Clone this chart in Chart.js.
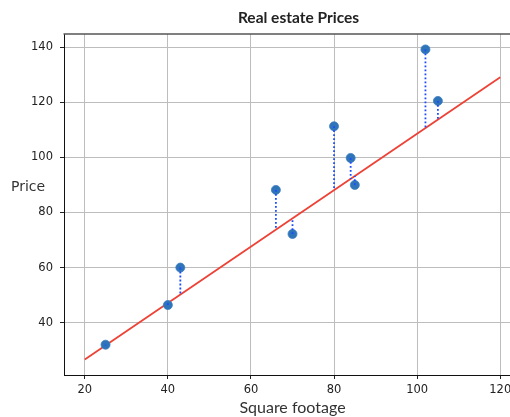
<!DOCTYPE html>
<html>
<head>
<meta charset="utf-8">
<script src="https://cdn.jsdelivr.net/npm/chart.js@4/dist/chart.umd.min.js"></script>
<style>
  html, body { margin: 0; padding: 0; background: #fff; overflow: hidden; }
  #wrap { width: 540px; height: 417px; }
</style>
</head>
<body>
<div id="wrap"><canvas id="c" width="540" height="417"></canvas></div>
<script>
// Observations: square footage vs. price
const squareFootage = [25, 40, 43, 66, 70, 80, 84, 85, 102, 105];
const prices = [32, 46.4, 60, 88.2, 72.2, 111.3, 99.8, 90, 139.2, 120.5];

// Fitted model: price = intercept + slope * footage
const intercept = 6.1;
const slope = 1.025;
const lineRange = [20, 120];

// Axis ticks and limits
const xTicks = [20, 40, 60, 80, 100, 120];
const yTicks = [40, 60, 80, 100, 120, 140];
const xLimits = [15, 125];
const yLimits = [21.0, 144.8];

const predict = x => intercept + slope * x;

// Dotted residual segments from each observation to the fitted line
const residualSets = squareFootage.map((x, i) => ({
  type: 'line',
  data: [{ x: x, y: prices[i] }, { x: x, y: predict(x) }],
  borderColor: '#1a4cff',
  borderWidth: 1.8,
  borderDash: [1.8, 2.2],
  pointRadius: 0,
  fill: false,
  order: 0
}));

const labelsPlugin = {
  id: 'labels',
  afterDraw(chart) {
    const { ctx, chartArea } = chart;
    ctx.save();
    // top spine
    ctx.strokeStyle = '#555';
    ctx.lineWidth = 1.5;
    ctx.beginPath();
    ctx.moveTo(chartArea.left - 0.5, chartArea.top);
    ctx.lineTo(chart.width, chartArea.top);
    ctx.stroke();
    // title
    ctx.fillStyle = '#222';
    ctx.font = 'bold 15.5px Lato';
    ctx.textAlign = 'center';
    ctx.textBaseline = 'middle';
    ctx.fillText('Real estate Prices', (chartArea.left + chartArea.right) / 2 + 6, 18);
    // y-axis label, horizontal
    ctx.fillStyle = '#333';
    ctx.font = '14px "DejaVu Sans"';
    ctx.textAlign = 'left';
    ctx.fillText('Price', 11, 187);
    ctx.restore();
  }
};

new Chart(document.getElementById('c'), {
  type: 'scatter',
  data: {
    datasets: [
      {
        type: 'scatter',
        data: squareFootage.map((x, i) => ({ x: x, y: prices[i] })),
        backgroundColor: '#2f74b8',
        borderColor: '#3b7fc0',
        borderWidth: 0.8,
        pointRadius: 4.5,
        pointHoverRadius: 4.5,
        order: 1
      },
      {
        type: 'line',
        data: lineRange.map(x => ({ x: x, y: predict(x) })),
        borderColor: '#ee4236',
        borderWidth: 1.8,
        pointRadius: 0,
        fill: false,
        order: 2
      },
      ...residualSets
    ]
  },
  options: {
    responsive: false,
    devicePixelRatio: 1,
    animation: false,
    events: [],
    layout: { padding: { left: 0, right: 19, top: 34, bottom: 0 } },
    plugins: {
      legend: { display: false },
      tooltip: { enabled: false },
      title: { display: false }
    },
    scales: {
      x: {
        type: 'linear',
        min: xLimits[0],
        max: xLimits[1],
        afterBuildTicks: s => { s.ticks = xTicks.map(v => ({ value: v })); },
        afterFit: s => { s.height = 42; },
        grid: { color: '#bdbdbd', lineWidth: 1, tickLength: 4, tickColor: '#222', tickWidth: 1 },
        border: { color: '#111', width: 1 },
        ticks: {
          color: '#222',
          font: { family: 'DejaVu Sans', size: 11.5 },
          padding: 4,
          maxRotation: 0,
          autoSkip: false
        },
        title: {
          display: true,
          text: 'Square footage',
          color: '#333',
          font: { family: 'Lato', size: 16 },
          padding: { top: 0, bottom: 0 }
        }
      },
      y: {
        type: 'linear',
        min: yLimits[0],
        max: yLimits[1],
        afterBuildTicks: s => { s.ticks = yTicks.map(v => ({ value: v })); },
        afterFit: s => { s.width = 64; },
        grid: { color: '#bdbdbd', lineWidth: 1, tickLength: 4, tickColor: '#222', tickWidth: 1 },
        border: { color: '#111', width: 1 },
        ticks: {
          color: '#222',
          font: { family: 'DejaVu Sans', size: 11.5 },
          padding: 7,
          autoSkip: false
        }
      }
    }
  },
  plugins: [labelsPlugin]
});
</script>
</body>
</html>
